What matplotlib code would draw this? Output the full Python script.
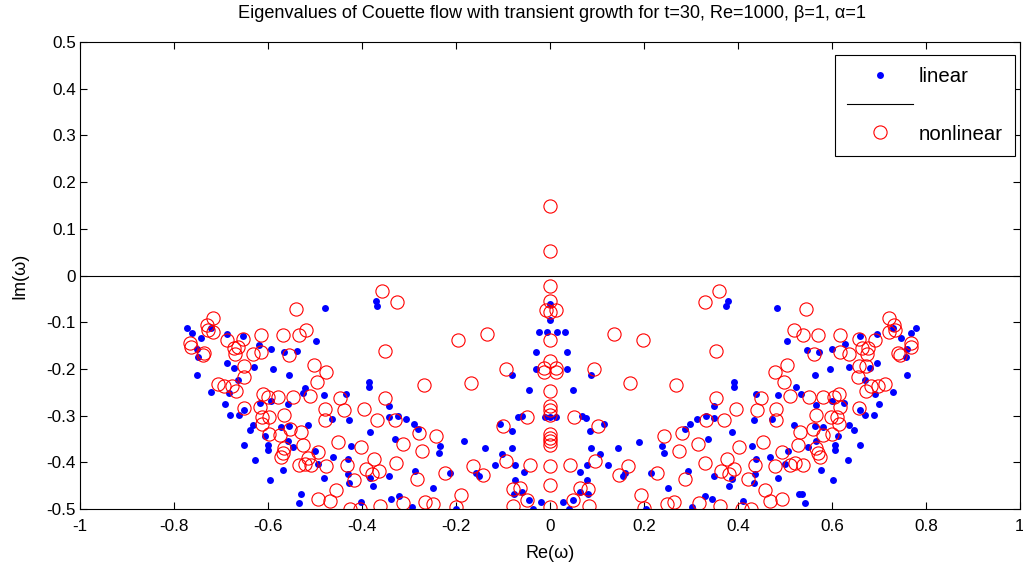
import numpy as np
import matplotlib
matplotlib.use("Agg")
import matplotlib.pyplot as plt

plt.rcParams['font.family'] = ['Liberation Sans', 'DejaVu Sans']

# eigenvalues (Re, Im)
linear_re = [
    -0.773, -0.762, -0.742, -0.722, -0.688, -0.654, -0.620, -0.751, -0.748, -0.593, -0.566, -0.538,
    -0.688, -0.673, -0.630, -0.590, -0.556, -0.752, -0.663, -0.722, -0.683, -0.522,
    -0.691, -0.680, -0.661, -0.650, -0.639, -0.631, -0.650, -0.627, -0.593, -0.618, -0.606, -0.599,
    -0.599, -0.572, -0.556, -0.558, -0.547, -0.569, -0.596, -0.529, -0.535, -0.558,
    -0.478, -0.371, -0.368, -0.497, -0.385, -0.385, -0.526, -0.481, -0.434,
    -0.343, -0.464, -0.427, -0.514, -0.343, -0.324, -0.307, -0.290, -0.281, -0.383, -0.329, -0.423, -0.500, -0.461,
    -0.430, -0.494, -0.430, -0.481, -0.427, -0.383, -0.376, -0.343, -0.288, -0.403, -0.338, -0.322, -0.293,
    0.0, 0.0, -0.024, -0.006, 0.014, 0.032, -0.029, -0.029, -0.080, -0.044, 0.036, 0.036, 0.088, 0.050,
    -0.010, 0.0, 0.012, -0.068, -0.060, -0.107, -0.081, -0.182, -0.234, -0.237, -0.138, -0.081, -0.102,
    -0.118, -0.074, -0.056, -0.212, -0.157, -0.150, -0.074, -0.248, -0.076, -0.060, -0.044, -0.020, -0.037, -0.200,
    0.068, 0.077, 0.086, 0.114, 0.088, 0.145, 0.190, 0.106, 0.124, 0.078, 0.063, 0.160,
    0.155, 0.078, 0.216, 0.238, 0.243, 0.252, 0.064, 0.080, 0.050, 0.027, 0.041, 0.205,
    0.378, 0.375, 0.483, 0.505, 0.392, 0.392, 0.439, 0.486, 0.523,
    0.349, 0.312, 0.298, 0.287, 0.333, 0.349, 0.387, 0.434, 0.472, 0.336, 0.429, 0.520, 0.468, 0.438,
    0.507, 0.501, 0.294, 0.349, 0.388, 0.382, 0.436, 0.434, 0.486, 0.329, 0.344, 0.302, 0.411, 0.529,
    0.779, 0.769, 0.748, 0.729, 0.696, 0.660, 0.627, 0.546, 0.573, 0.600, 0.760, 0.758,
    0.696, 0.681, 0.636, 0.595, 0.564, 0.760, 0.671, 0.534, 0.691, 0.729,
    0.566, 0.626, 0.600, 0.670, 0.689, 0.659, 0.700, 0.636, 0.647, 0.581, 0.564,
    0.613, 0.607, 0.607, 0.659, 0.566, 0.549, 0.634, 0.576, 0.603, 0.536, 0.543,
]
linear_im = [
    -0.113, -0.123, -0.133, -0.113, -0.126, -0.130, -0.148, -0.158, -0.174, -0.157, -0.164, -0.161,
    -0.188, -0.198, -0.196, -0.201, -0.212, -0.212, -0.224, -0.250, -0.251, -0.240,
    -0.276, -0.298, -0.298, -0.289, -0.331, -0.321, -0.362, -0.396, -0.269, -0.273, -0.344, -0.362,
    -0.373, -0.324, -0.323, -0.355, -0.368, -0.417, -0.437, -0.467, -0.488, -0.276,
    -0.069, -0.055, -0.066, -0.141, -0.228, -0.239, -0.251, -0.256, -0.253,
    -0.280, -0.307, -0.310, -0.321, -0.303, -0.301, -0.307, -0.318, -0.328, -0.335, -0.351, -0.365, -0.376, -0.389,
    -0.394, -0.403, -0.424, -0.433, -0.444, -0.433, -0.451, -0.430, -0.419, -0.485, -0.478, -0.473, -0.495,
    -0.062, -0.096, -0.121, -0.121, -0.121, -0.121, -0.164, -0.201, -0.213, -0.246, -0.164, -0.201, -0.213, -0.246,
    -0.303, -0.303, -0.303, -0.303, -0.300, -0.318, -0.332, -0.355, -0.365, -0.380, -0.369, -0.369, -0.382,
    -0.406, -0.406, -0.420, -0.422, -0.422, -0.430, -0.437, -0.455, -0.467, -0.463, -0.481, -0.485, -0.499, -0.499,
    -0.301, -0.305, -0.332, -0.318, -0.369, -0.369, -0.356, -0.383, -0.406, -0.406, -0.420, -0.422,
    -0.430, -0.437, -0.422, -0.365, -0.380, -0.455, -0.463, -0.467, -0.481, -0.485, -0.499, -0.499,
    -0.055, -0.066, -0.069, -0.141, -0.228, -0.239, -0.253, -0.256, -0.238,
    -0.280, -0.308, -0.318, -0.328, -0.301, -0.305, -0.335, -0.310, -0.307, -0.351, -0.365, -0.321, -0.389, -0.394,
    -0.376, -0.403, -0.419, -0.430, -0.435, -0.451, -0.424, -0.444, -0.433, -0.473, -0.478, -0.495, -0.483, -0.467,
    -0.113, -0.123, -0.133, -0.113, -0.126, -0.130, -0.146, -0.159, -0.164, -0.157, -0.157, -0.174,
    -0.188, -0.198, -0.196, -0.201, -0.212, -0.212, -0.224, -0.253, -0.253, -0.250,
    -0.278, -0.273, -0.268, -0.298, -0.298, -0.289, -0.276, -0.321, -0.331, -0.324, -0.323,
    -0.344, -0.362, -0.373, -0.362, -0.355, -0.368, -0.396, -0.417, -0.437, -0.467, -0.488,
]

nonlinear_re = [
    -0.717, -0.730, -0.716, -0.728, -0.540, -0.765, -0.763, -0.737, -0.739, -0.688, -0.654, -0.673, -0.663, -0.671, -0.614,
    -0.632, -0.614, -0.567, -0.535, -0.556, -0.652, -0.652, -0.707, -0.693, -0.677, -0.669, -0.611, -0.600, -0.579, -0.547,
    -0.652, -0.616, -0.565, -0.613, -0.597, -0.613,
    -0.597, -0.575, -0.554, -0.529, -0.565, -0.569, -0.572, -0.526, -0.533,
    -0.358, -0.326, -0.520, -0.350, -0.503, -0.476, -0.496, -0.510, -0.446, -0.350, -0.269,
    -0.478, -0.439, -0.395, -0.478, -0.368, -0.329, -0.451, -0.402, -0.313, -0.279, -0.272,
    -0.493, -0.515, -0.522, -0.508, -0.476, -0.431, -0.375, -0.391, -0.378, -0.364, -0.327,
    -0.418, -0.283, -0.456, -0.493, -0.469, -0.425, -0.404, -0.361, -0.313, -0.265,
    0.0, 0.0, 0.0, 0.0, -0.008, 0.0, 0.013, 0.0, 0.0, -0.012, 0.012, -0.012, 0.012,
    0.0, 0.0, 0.0, 0.0, 0.0, 0.0, 0.0, 0.0, 0.0, 0.0, 0.0,
    -0.195, -0.134, -0.093, -0.168, -0.049, -0.099, -0.242, -0.163, -0.093, -0.042,
    -0.224, -0.143, -0.079, -0.063, -0.190, -0.049, -0.248, -0.200, -0.079,
    0.136, 0.198, 0.094, 0.170, 0.052, 0.102, 0.243, 0.043, 0.095, 0.167,
    0.146, 0.227, 0.064, 0.080, 0.194, 0.050, 0.082, 0.201, 0.248,
    0.360, 0.329, 0.520, 0.353, 0.505, 0.478, 0.498, 0.268, 0.353, 0.448, 0.511,
    0.396, 0.440, 0.481, 0.333, 0.370, 0.480, 0.281, 0.316, 0.403, 0.453, 0.275,
    0.493, 0.329, 0.376, 0.436, 0.478, 0.511, 0.522, 0.363, 0.392, 0.380,
    0.287, 0.422, 0.458, 0.493, 0.469, 0.317, 0.362, 0.409, 0.427, 0.263,
    0.545, 0.721, 0.733, 0.721, 0.735, 0.538, 0.570, 0.618, 0.692, 0.657, 0.665, 0.676, 0.674, 0.768, 0.768,
    0.741, 0.744, 0.618, 0.636, 0.561, 0.657, 0.673, 0.655, 0.712, 0.698, 0.684, 0.673, 0.615, 0.604, 0.582, 0.551,
    0.657, 0.618, 0.567, 0.599, 0.611, 0.615, 0.601, 0.581, 0.560, 0.531,
    0.566, 0.571, 0.574, 0.527, 0.538,
]
nonlinear_im = [
    -0.092, -0.105, -0.121, -0.116, -0.071, -0.144, -0.153, -0.167, -0.171, -0.139, -0.137, -0.155, -0.153, -0.169, -0.128,
    -0.169, -0.163, -0.128, -0.128, -0.170, -0.193, -0.217, -0.233, -0.236, -0.237, -0.248, -0.253, -0.260, -0.260, -0.260,
    -0.283, -0.281, -0.299, -0.303, -0.303, -0.319,
    -0.340, -0.342, -0.328, -0.335, -0.369, -0.380, -0.389, -0.363, -0.405,
    -0.034, -0.057, -0.116, -0.162, -0.191, -0.207, -0.228, -0.258, -0.262, -0.262, -0.235,
    -0.285, -0.288, -0.285, -0.310, -0.310, -0.310, -0.357, -0.367, -0.360, -0.337, -0.375,
    -0.378, -0.390, -0.403, -0.406, -0.408, -0.405, -0.392, -0.415, -0.426, -0.419, -0.401,
    -0.437, -0.435, -0.460, -0.478, -0.483, -0.499, -0.499, -0.494, -0.487, -0.485,
    0.148, 0.052, -0.023, -0.055, -0.074, -0.078, -0.074, -0.139, -0.183, -0.198, -0.198, -0.207, -0.207,
    -0.248, -0.280, -0.287, -0.298, -0.339, -0.348, -0.355, -0.363, -0.408, -0.449, -0.496,
    -0.139, -0.125, -0.200, -0.231, -0.303, -0.323, -0.344, -0.408, -0.398, -0.405,
    -0.422, -0.428, -0.458, -0.456, -0.469, -0.480, -0.490, -0.496, -0.494,
    -0.125, -0.139, -0.200, -0.231, -0.303, -0.323, -0.344, -0.405, -0.398, -0.408,
    -0.428, -0.422, -0.455, -0.458, -0.469, -0.480, -0.494, -0.497, -0.489,
    -0.034, -0.057, -0.116, -0.162, -0.191, -0.207, -0.228, -0.235, -0.262, -0.262, -0.258,
    -0.285, -0.288, -0.285, -0.310, -0.310, -0.310, -0.337, -0.360, -0.367, -0.357, -0.375,
    -0.378, -0.401, -0.392, -0.405, -0.408, -0.405, -0.401, -0.419, -0.415, -0.426,
    -0.435, -0.435, -0.460, -0.478, -0.483, -0.487, -0.494, -0.499, -0.499, -0.485,
    -0.071, -0.092, -0.105, -0.121, -0.116, -0.128, -0.128, -0.128, -0.139, -0.135, -0.155, -0.155, -0.169, -0.144, -0.153,
    -0.167, -0.171, -0.164, -0.169, -0.169, -0.193, -0.193, -0.217, -0.233, -0.236, -0.237, -0.248, -0.253, -0.260, -0.260, -0.260,
    -0.283, -0.281, -0.299, -0.303, -0.303, -0.319, -0.340, -0.342, -0.328, -0.335,
    -0.370, -0.380, -0.389, -0.363, -0.406,
]

x_ticks = [-1, -0.8, -0.6, -0.4, -0.2, 0, 0.2, 0.4, 0.6, 0.8, 1]
y_ticks = [0.5, 0.4, 0.3, 0.2, 0.1, 0, -0.1, -0.2, -0.3, -0.4, -0.5]

fig = plt.figure(figsize=(10.23, 5.71), dpi=100)
ax = fig.add_axes([0.0782, 0.1086, 0.9188, 0.8178])

h_lin, = ax.plot(linear_re, linear_im, 'o', color='#0000ff', markersize=5, markeredgewidth=0, linestyle='none')
h_zero, = ax.plot([-1, 1], [0, 0], '-', color='black', linewidth=0.8)
h_non, = ax.plot(nonlinear_re, nonlinear_im, 'o', color='#ff0000', markersize=9.5, markerfacecolor='none',
                 markeredgewidth=0.8, linestyle='none')

ax.set_xlim(-1, 1)
ax.set_ylim(-0.5, 0.5)
ax.set_xticks(x_ticks)
ax.set_xticklabels([('%g' % t) for t in x_ticks])
ax.set_yticks(y_ticks)
ax.set_yticklabels([('%g' % t) for t in y_ticks])
ax.tick_params(direction='in', top=True, right=True, labelsize=12.3, length=5, width=0.8)
ax.tick_params(axis='x', pad=7)
ax.tick_params(axis='y', pad=3)

ax.set_xlabel('Re(\u03c9)', fontsize=13, labelpad=8)
ax.set_ylabel('Im(\u03c9)', fontsize=13, labelpad=13)
fig.text(551.5 / 1023, 1 - 14 / 571, 'Eigenvalues of Couette flow with transient growth for t=30, Re=1000, \u03b2=1, \u03b1=1',
         ha='center', va='center', fontsize=13.1)

leg = ax.legend([h_lin, h_zero, h_non], ['linear', '', 'nonlinear'], loc='upper right',
                bbox_to_anchor=(0.9947, 0.972), borderaxespad=0, fancybox=False, edgecolor='black',
                framealpha=1, fontsize=14.7, handlelength=3.2, handletextpad=0.3, labelspacing=0.47,
                borderpad=0.6)
leg.get_frame().set_linewidth(0.8)

fig.savefig('out.png', dpi=100)
